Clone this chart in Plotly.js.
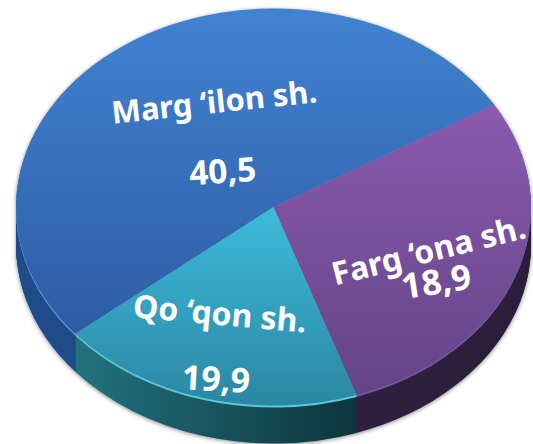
<!DOCTYPE html>
<html>
<head>
<meta charset="utf-8">
<script src="https://cdn.plot.ly/plotly-3.0.1.min.js"></script>
<style>html,body{margin:0;padding:0;background:#fff;overflow:hidden}#chart{width:533px;height:444px}</style>
</head>
<body>
<div id="chart"></div>
<script>
const categories = ["Marg ‘ilon sh.", "Farg ‘ona sh.", "Qo ‘qon sh."];
// Numbers printed on the reference.
const valueLabels = ["40,5", "18,9", "19,9"];
// Wedge shares as drawn in the reference, measured from its angles (%).
// The reference's wedges are not proportional to its printed numbers, so the
// two are kept apart: these reproduce the picture, valueLabels its text.
const drawnShares = [52.4, 28.4, 19.2];
const firstSliceAngle = 230.3;

const topStart = ["#4183d2", "#8a5aae", "#3dbbdb"];
const topEnd = ["#2e5ca3", "#644487", "#2b87a3"];
const rimColor = ["#5f8fd8", "#74589a", "#5cc8da"];
const wallStart = ["#1f4c88", "#2e2040", "#21737e"];
const wallEnd = ["#1d4a82", "#2c1e3a", "#0e353d"];

const W = 533, H = 444;
const depth = 38;
const tilt = {cx: 273.5, cy: 207, rx: 257.5, ry: 198.5};

const traces = [];
for (let d = depth; d >= 0; d--) {
  traces.push({
    type: "pie", labels: categories, values: drawnShares, sort: false,
    direction: "clockwise", rotation: firstSliceAngle, textinfo: "none", hoverinfo: "skip",
    showlegend: false, domain: {x: [0, 1], y: [0, 1]},
    marker: {colors: d === 0 ? topStart : wallStart, line: {width: 0}}
  });
}

function label(text, x, y, angle, size) {
  return {text: "<b>" + text + "</b>", xref: "paper", yref: "paper", x: x / W, y: 1 - y / H,
    xanchor: "center", yanchor: "middle", showarrow: false, textangle: angle,
    font: {family: "'Noto Sans', sans-serif", size: size, color: "#fff"}};
}
const annotations = [
  label(categories[0], 214, 101, -6, 31),
  label(valueLabels[0], 222, 170, -4, 33.5),
  label(categories[1], 428, 249, -14, 32),
  label(valueLabels[1], 436, 280, -9, 35),
  label(categories[2], 220, 312, 5, 32),
  label(valueLabels[2], 216, 378, 3, 34)
];

const layout = {width: W, height: H, margin: {l: 0, r: 0, t: 0, b: 0},
  paper_bgcolor: "#fff", showlegend: false, annotations: annotations};

Plotly.newPlot("chart", traces, layout, {staticPlot: true, displayModeBar: false}).then(function (gd) {
  const svgNS = "http://www.w3.org/2000/svg";
  const svg = gd.querySelector("svg.main-svg");
  const defs = document.createElementNS(svgNS, "defs");
  svg.insertBefore(defs, svg.firstChild);
  function grad(id, a, b, horizontal) {
    const g = document.createElementNS(svgNS, "linearGradient");
    g.setAttribute("id", id);
    g.setAttribute("x1", "0"); g.setAttribute("y1", "0");
    g.setAttribute("x2", horizontal ? "1" : "0"); g.setAttribute("y2", horizontal ? "0" : "1");
    [[0, a], [1, b]].forEach(function (s) {
      const st = document.createElementNS(svgNS, "stop");
      st.setAttribute("offset", s[0]); st.setAttribute("stop-color", s[1]);
      g.appendChild(st);
    });
    defs.appendChild(g);
  }
  categories.forEach(function (_, i) {
    grad("top" + i, topStart[i], topEnd[i], false);
    grad("wall" + i, wallStart[i], wallEnd[i], true);
  });
  const groups = gd.querySelectorAll(".pielayer .trace");
  const s0 = Math.min(W, H) / 2;
  groups.forEach(function (g, idx) {
    const d = depth - idx;
    g.setAttribute("transform",
      "translate(" + tilt.cx + "," + (tilt.cy + d) + ") scale(" +
      (tilt.rx / s0) + "," + (tilt.ry / s0) + ") translate(" + (-W / 2) + "," + (-H / 2) + ")");
    g.querySelectorAll(".slice path.surface").forEach(function (p, i) {
      p.style.stroke = "none";
      if (d === 0) p.style.fill = "url(#top" + i + ")";
      else if (d <= 2) p.style.fill = rimColor[i];
      else p.style.fill = "url(#wall" + i + ")";
    });
  });
  gd.querySelector(".pielayer").style.filter = "drop-shadow(0px 1px 2px rgba(0,0,0,0.45))";
});
</script>
</body>
</html>
